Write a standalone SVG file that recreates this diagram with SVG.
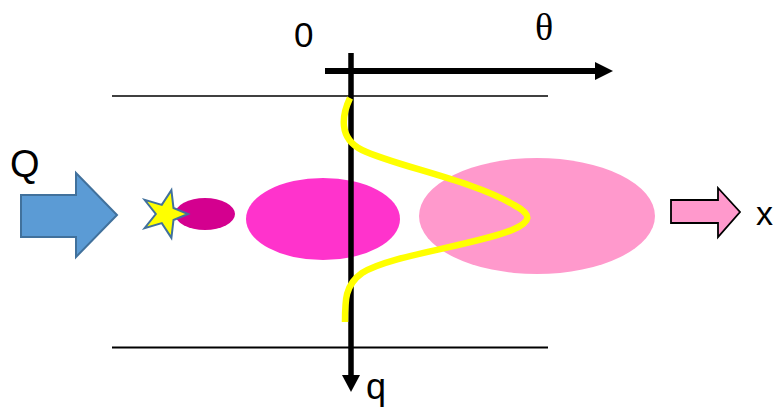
<svg xmlns="http://www.w3.org/2000/svg" width="780" height="409" viewBox="0 0 780 409">
<defs>
<style>
.lbl{font-family:"Liberation Sans",Arial,sans-serif;fill:#000}
.ser{font-family:"Liberation Serif","Times New Roman",serif;fill:#000}
</style>
</defs>
<rect width="780" height="409" fill="#fff"/>
<g id="channel">
<line x1="112" y1="96" x2="548" y2="96" stroke="#000" stroke-width="1.3"/>
<line x1="112" y1="347.5" x2="548" y2="347.5" stroke="#000" stroke-width="2"/>
</g>
<g id="particles">
<ellipse id="p-large" cx="537" cy="216" rx="118" ry="58" fill="#FF99CC"/>
<ellipse id="p-mid" cx="323" cy="219" rx="77" ry="41" fill="#FF33CC"/>
<ellipse id="p-small" cx="205" cy="214" rx="30" ry="16" fill="#D4008F"/>
</g>
<g id="source">
<polygon points="188,214 173.5,220 171.4,237.8 161.8,223.1 144.6,228.1 155.8,214 144.6,199.9 161.8,204.9 171.4,190.2 173.5,208" fill="#FFFF00" stroke="#41719C" stroke-width="2" stroke-linejoin="miter"/>
</g>
<g id="inflow">
<polygon points="21,195 76,195 76,173 117,215 76,257 76,237 21,237" fill="#5B9BD5" stroke="#41719C" stroke-width="2"/>
<text class="lbl" x="10" y="177" font-size="38">Q</text>
</g>
<g id="outflow">
<polygon points="671,200 718,200 718,188 740,212 718,237 718,223 671,223" fill="#FF99CC" stroke="#000" stroke-width="1.8"/>
<text class="lbl" x="756" y="225" font-size="34">x</text>
</g>
<g id="connectors">
<line x1="351" y1="53" x2="351" y2="376" stroke="#000" stroke-width="5.5"/>
<polygon points="342,375 360,375 351,392" fill="#000"/>
<line x1="325" y1="71" x2="597" y2="71" stroke="#000" stroke-width="6"/>
<polygon points="595,62 613,71 595,80" fill="#000"/>
</g>
<g id="profile">
<path d="M350,98 C342,115 338,138 362,150 C395,166 472,180 514,205 C533,215 531,222 512,230 C472,246 390,255 362,273 C345,285 345,300 345,322" fill="none" stroke="#FFFF00" stroke-width="6.5"/>
</g>
<g id="labels">
<text class="lbl" x="294" y="47" font-size="35">0</text>
<text class="ser" x="535" y="40" font-size="38">θ</text>
<text class="lbl" x="366" y="399" font-size="36">q</text>
</g>
</svg>
